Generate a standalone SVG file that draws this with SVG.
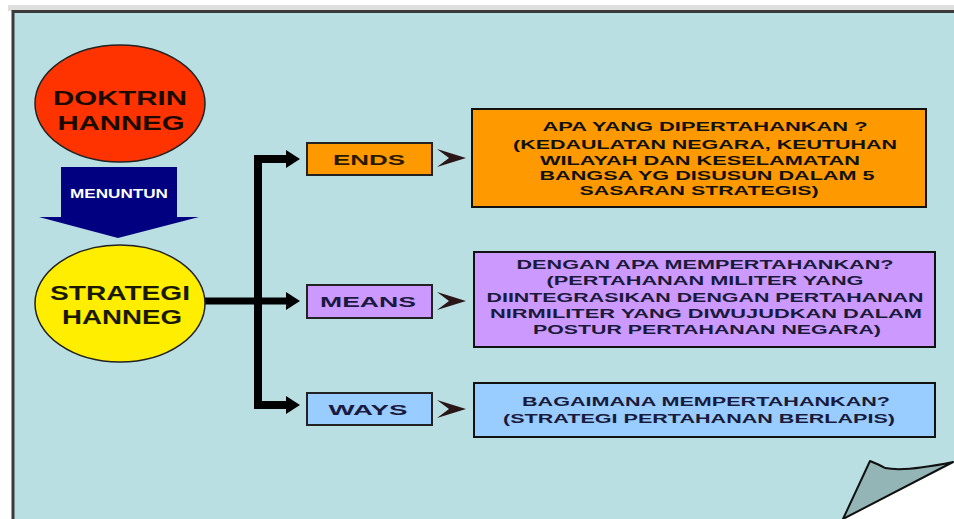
<svg xmlns="http://www.w3.org/2000/svg" width="954" height="519" viewBox="0 0 954 519">
<style>
.t{font-family:"Liberation Sans",Arial,sans-serif;font-weight:bold;text-anchor:middle}
.ell{stroke:#222;stroke-width:1.5}
.lbl{stroke:#222;stroke-width:2}
.big{stroke:#111;stroke-width:2}
.chev{fill:#2a1616}
.bt{font-size:13px;fill:#111}
.bt2{font-size:13px;fill:#1a1a3a}
</style>
<rect x="0" y="0" width="954" height="519" fill="#ffffff"/>
<rect x="8" y="5" width="946" height="6" fill="#dedede"/>
<rect x="13" y="11.5" width="960" height="520" fill="#b9dfe2" stroke="#3a3a3a" stroke-width="3"/>
<g id="page-curl">
<polygon points="843,519 954,463 954,519" fill="#ffffff"/>
<path d="M843,519 L870,461 Q880,465 885,468 Q905,472 953,462 L843,519 Z" fill="#93b5b5" stroke="#111" stroke-width="2" stroke-linejoin="round"/>
</g>
<g id="connectors">
<path d="M205,301 H288" fill="none" stroke="#000" stroke-width="7"/>
<path d="M288,159 H258 V405 H288" fill="none" stroke="#000" stroke-width="8" stroke-linejoin="miter"/>
<polygon points="286,150 300,159 286,168" fill="#000"/>
<polygon points="286,292 300,301 286,310" fill="#000"/>
<polygon points="286,396 300,405 286,414" fill="#000"/>
<polygon class="chev" points="437,149 466,158 437,167 449,158"/>
<polygon class="chev" points="437,292 466,301 437,310 449,301"/>
<polygon class="chev" points="437,400 466,409 437,418 449,409"/>
</g>
<g id="doktrin">
<ellipse class="ell" cx="120" cy="103.5" rx="85" ry="58.5" fill="#ff3300"/>
<text class="t" x="120" y="105" font-size="21" fill="#1a0a00" textLength="134" lengthAdjust="spacingAndGlyphs">DOKTRIN</text>
<text class="t" x="121" y="130" font-size="21" fill="#1a0a00" textLength="127" lengthAdjust="spacingAndGlyphs">HANNEG</text>
</g>
<g id="menuntun">
<polygon points="61,167 177,167 177,217 199,217 118,238 39,217 61,217" fill="#000080"/>
<text class="t" x="119" y="198" font-size="12" fill="#ffffff" textLength="98" lengthAdjust="spacingAndGlyphs">MENUNTUN</text>
</g>
<g id="strategi">
<ellipse class="ell" cx="120" cy="303.5" rx="85" ry="58.5" fill="#ffee00"/>
<text class="t" x="120" y="300" font-size="21" fill="#1a1a00" textLength="140" lengthAdjust="spacingAndGlyphs">STRATEGI</text>
<text class="t" x="122" y="324" font-size="21" fill="#1a1a00" textLength="120" lengthAdjust="spacingAndGlyphs">HANNEG</text>
</g>
<g id="ends">
<rect class="lbl" x="307" y="143" width="125" height="32" fill="#ff9900"/>
<text class="t" x="369" y="165" font-size="15" fill="#2a1a00" textLength="72" lengthAdjust="spacingAndGlyphs">ENDS</text>
</g>
<g id="means">
<rect class="lbl" x="307" y="285" width="125" height="33" fill="#cc99ff"/>
<text class="t" x="368" y="307" font-size="15" fill="#1a1a40" textLength="96" lengthAdjust="spacingAndGlyphs">MEANS</text>
</g>
<g id="ways">
<rect class="lbl" x="307" y="393" width="125" height="32" fill="#99ccff"/>
<text class="t" x="368" y="415" font-size="15" fill="#1a1a40" textLength="79" lengthAdjust="spacingAndGlyphs">WAYS</text>
</g>
<g id="ends-desc">
<rect class="big" x="472" y="109" width="454" height="98" fill="#ff9900"/>
<text class="t bt" x="705" y="131" textLength="325" lengthAdjust="spacingAndGlyphs">APA YANG DIPERTAHANKAN ?</text>
<text class="t bt" x="705" y="149" textLength="384" lengthAdjust="spacingAndGlyphs">(KEDAULATAN NEGARA, KEUTUHAN</text>
<text class="t bt" x="700" y="165" textLength="320" lengthAdjust="spacingAndGlyphs">WILAYAH DAN KESELAMATAN</text>
<text class="t bt" x="707" y="180" textLength="335" lengthAdjust="spacingAndGlyphs">BANGSA YG DISUSUN DALAM  5</text>
<text class="t bt" x="699" y="195" textLength="239" lengthAdjust="spacingAndGlyphs">SASARAN STRATEGIS)</text>
</g>
<g id="means-desc">
<rect class="big" x="474" y="252" width="461" height="95" fill="#cc99ff"/>
<text class="t bt2" x="705" y="269" textLength="377" lengthAdjust="spacingAndGlyphs">DENGAN APA MEMPERTAHANKAN?</text>
<text class="t bt2" x="705" y="285" textLength="317" lengthAdjust="spacingAndGlyphs">(PERTAHANAN MILITER YANG</text>
<text class="t bt2" x="705" y="302" textLength="437" lengthAdjust="spacingAndGlyphs">DIINTEGRASIKAN DENGAN PERTAHANAN</text>
<text class="t bt2" x="706" y="318" textLength="432" lengthAdjust="spacingAndGlyphs">NIRMILITER YANG DIWUJUDKAN  DALAM</text>
<text class="t bt2" x="707" y="334" textLength="348" lengthAdjust="spacingAndGlyphs">POSTUR PERTAHANAN NEGARA)</text>
</g>
<g id="ways-desc">
<rect class="big" x="474" y="383" width="461" height="54" fill="#99ccff"/>
<text class="t bt2" x="706" y="406" textLength="368" lengthAdjust="spacingAndGlyphs">BAGAIMANA MEMPERTAHANKAN?</text>
<text class="t bt2" x="699" y="423" textLength="392" lengthAdjust="spacingAndGlyphs">(STRATEGI PERTAHANAN BERLAPIS)</text>
</g>
</svg>
